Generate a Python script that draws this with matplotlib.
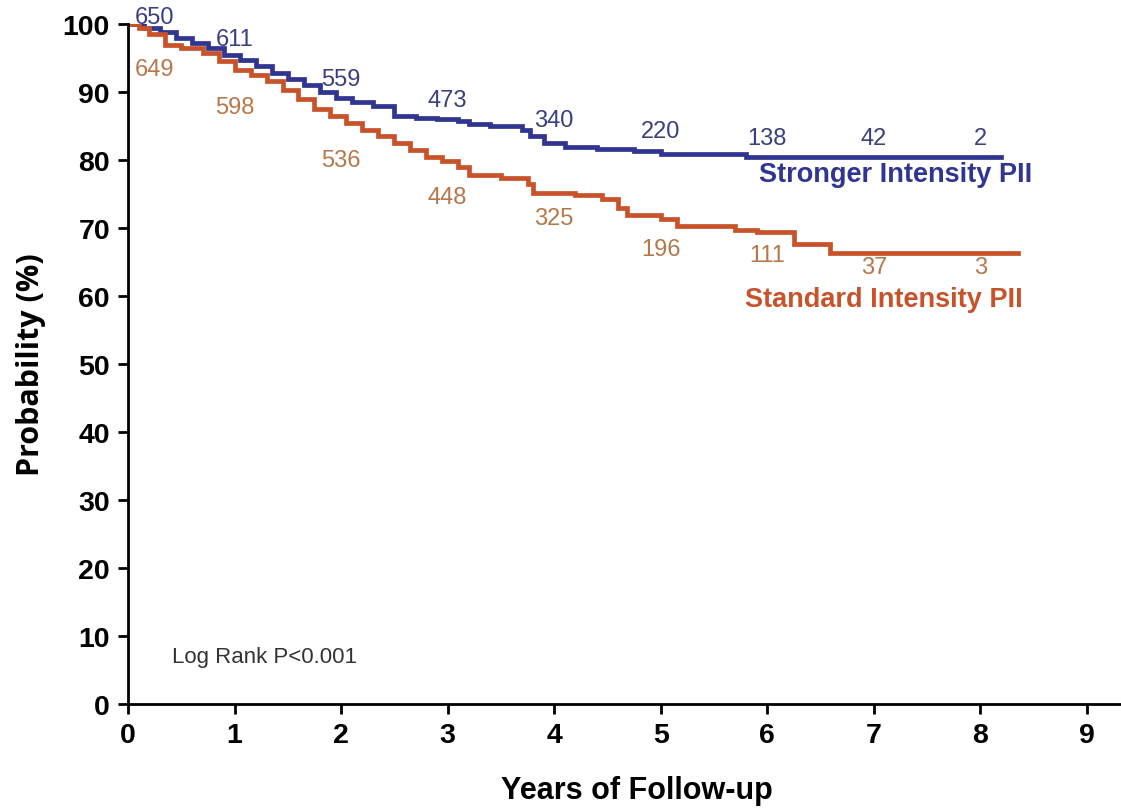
import matplotlib
matplotlib.use("Agg")
import matplotlib.pyplot as plt

# ---- data ----
strong_t = [0, 0.15, 0.3, 0.45, 0.6, 0.75, 0.9, 1.05, 1.2, 1.35, 1.5, 1.65, 1.8, 1.95,
            2.1, 2.3, 2.5, 2.7, 2.9, 3.1, 3.2, 3.4, 3.7, 3.77, 3.9, 4.1, 4.4, 4.75, 5.0, 5.8, 8.19]
strong_s = [100, 99.5, 98.8, 98.0, 97.2, 96.5, 95.5, 94.8, 93.8, 92.8, 92.0, 91.0, 90.0, 89.2,
            88.5, 88.0, 86.5, 86.2, 86.0, 85.8, 85.3, 85.0, 84.5, 83.5, 82.5, 81.9, 81.6, 81.3, 80.9, 80.4, 80.4]

std_t = [0, 0.1, 0.2, 0.35, 0.5, 0.7, 0.85, 1.0, 1.15, 1.3, 1.45, 1.6, 1.75, 1.9, 2.05, 2.2,
         2.35, 2.5, 2.65, 2.8, 2.95, 3.1, 3.2, 3.5, 3.75, 3.8, 4.2, 4.45, 4.6, 4.68, 5.0, 5.15,
         5.7, 5.9, 6.25, 6.59, 8.35]
std_s = [100, 99.5, 98.5, 97.0, 96.5, 95.8, 94.6, 93.3, 92.5, 91.6, 90.3, 89.0, 87.5, 86.5, 85.5, 84.5,
         83.5, 82.5, 81.5, 80.5, 79.8, 79.0, 77.8, 77.3, 76.5, 75.2, 74.8, 74.3, 73.0, 72.0, 71.4, 70.3,
         69.7, 69.4, 67.6, 66.4, 66.4]

risk_x = [0.25, 1, 2, 3, 4, 5, 6, 7, 8]
risk_strong = ["650", "611", "559", "473", "340", "220", "138", "42", "2"]
risk_strong_y = [101.0, 97.8, 91.9, 88.8, 85.9, 84.3, 83.2, 83.2, 83.2]
risk_std = ["649", "598", "536", "448", "325", "196", "111", "37", "3"]
risk_std_y = [93.4, 87.8, 80.0, 74.6, 71.5, 67.0, 66.1, 64.3, 64.3]

x_ticks = list(range(0, 10))
y_ticks = list(range(0, 101, 10))

BLUE = "#2f3590"
ORANGE = "#c8532a"
BLUE_TXT = "#3a3f80"
ORANGE_TXT = "#b5784a"

plt.rcParams['font.family'] = ['Liberation Sans', 'DejaVu Sans']

fig = plt.figure(figsize=(11.21, 8.12), dpi=100)
ax = fig.add_axes([0.1142, 0.1318, 0.8858, 0.8372])

ax.plot(strong_t, strong_s, drawstyle='steps-post', color=BLUE, lw=3.4, solid_joinstyle='miter')
ax.plot(std_t, std_s, drawstyle='steps-post', color=ORANGE, lw=3.4, solid_joinstyle='miter')

for x, lab, y in zip(risk_x, risk_strong, risk_strong_y):
    ax.text(x, y, lab, color=BLUE_TXT, fontsize=17, ha='center', va='center')
for x, lab, y in zip(risk_x, risk_std, risk_std_y):
    ax.text(x, y, lab, color=ORANGE_TXT, fontsize=17, ha='center', va='center')

ax.text(7.2, 77.9, "Stronger Intensity PII", color=BLUE, fontsize=19.5, fontweight='bold',
        ha='center', va='center')
ax.text(7.09, 59.6, "Standard Intensity PII", color=ORANGE, fontsize=19.5, fontweight='bold',
        ha='center', va='center')
ax.text(0.41, 7.0, "Log Rank P<0.001", color='#333333', fontsize=16, ha='left', va='center')

ax.set_xlim(0, 9.32)
ax.set_ylim(0, 100)
ax.set_xticks(x_ticks)
ax.set_yticks(y_ticks)
ax.tick_params(direction='out', length=7, width=2, labelsize=20.5, pad=6)
for lab in ax.get_xticklabels() + ax.get_yticklabels():
    lab.set_fontweight('bold')
for s in ['top', 'right']:
    ax.spines[s].set_visible(False)
for s in ['left', 'bottom']:
    ax.spines[s].set_linewidth(2)
ax.spines['left'].set_bounds(0, 100)

ax.set_xlabel("Years of Follow-up", fontsize=22, fontweight='bold', labelpad=14)
ax.xaxis.set_label_coords(0.512, -0.105)
ax.set_ylabel("Probability (%)", fontsize=22, fontweight='bold', labelpad=12,
              family=['Open Sans', 'DejaVu Sans'])

fig.savefig("out.png", dpi=100)
